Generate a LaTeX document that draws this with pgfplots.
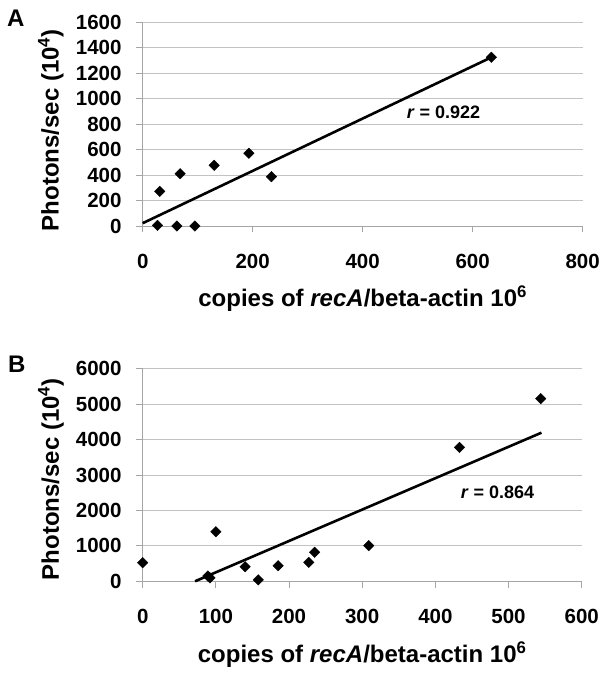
\documentclass[border=0pt]{standalone}
\usepackage{fontspec}
\setmainfont{Liberation Sans}
\usepackage{pgfplots}
\pgfplotsset{compat=1.18}
\definecolor{gridgray}{RGB}{195,195,195}
\definecolor{axgray}{RGB}{165,165,165}
\pgfplotsset{
  mystyle/.style={
    scale only axis,
    axis lines=left,
    axis line style={-, axgray, line width=0.9pt},
    ymajorgrids,
    grid style={gridgray, line width=0.9pt},
    tick style={axgray, line width=0.9pt},
    tick align=outside,
    major tick length=6.5pt,
    tick label style={font=\fontsize{20.5}{24}\selectfont\bfseries, inner sep=0pt},
    /pgf/number format/assume math mode=true,
    /pgf/number format/set thousands separator={},
    xticklabel style={anchor=north},
    yticklabel style={anchor=east},
    xticklabel shift=21.5pt,
    yticklabel shift=14.5pt,
    label style={font=\fontsize{24}{28}\selectfont\bfseries},
    clip=false,
  },
  scat/.style={only marks, mark=square*, mark size=3.7pt, mark options={rotate=45, fill=black, draw=black}},
  trend/.style={black, line width=2.6pt, no marks},
}
\begin{document}
\begin{tikzpicture}
\useasboundingbox (0,0) rectangle (607pt,676pt);
\node[anchor=base west, inner sep=0pt, font=\fontsize{24}{28}\selectfont\bfseries] at (7pt,649pt) {A};
\node[anchor=base west, inner sep=0pt, font=\fontsize{24}{28}\selectfont\bfseries] at (8pt,303pt) {B};
\begin{axis}[mystyle,
  at={(142.7pt,450pt)}, anchor=south west,
  width=440pt, height=204pt,
  xmin=0, xmax=800, ymin=0, ymax=1600,
  xtick={0,200,400,600,800}, ytick={0,200,...,1600},
  xlabel={copies of \textit{recA}/beta-actin 10\textsuperscript{6}},
  ylabel={Photons/sec (10\textsuperscript{4})},
  xlabel style={at={(axis description cs:0.5,-0.397)}, anchor=base},
  ylabel style={at={(axis description cs:-0.209,0.47)}, anchor=center},
]
\addplot[trend] coordinates {(0,22) (634,1323)};
\addplot[scat] coordinates {
(27,5) (31,272) (62,0) (68,410) (95,0) (130,476) (193,570) (234,387) (634,1323)
};
\node[font=\fontsize{18}{20}\selectfont\bfseries] at (axis cs:547,895) {\textit{r} = 0.922};
\end{axis}
\begin{axis}[mystyle,
  at={(142.7pt,94.7pt)}, anchor=south west,
  width=439pt, height=212.6pt,
  xmin=0, xmax=600, ymin=0, ymax=6000,
  xtick={0,100,...,600}, ytick={0,1000,...,6000},
  xlabel={copies of \textit{recA}/beta-actin 10\textsuperscript{6}},
  ylabel={Photons/sec (10\textsuperscript{4})},
  xlabel style={at={(axis description cs:0.5,-0.383)}, anchor=base},
  ylabel style={at={(axis description cs:-0.209,0.48)}, anchor=center},
]
\addplot[trend] coordinates {(71.5,0) (545,4194)};
\addplot[scat] coordinates {
(0,525) (89,150) (92,95) (100,1400) (140,412) (158,40) (185,440) (227,536) (235,818) (309,1005) (433,3782) (544,5154)
};
\node[font=\fontsize{18}{20}\selectfont\bfseries] at (axis cs:485,2520) {\textit{r} = 0.864};
\end{axis}
\end{tikzpicture}
\end{document}
